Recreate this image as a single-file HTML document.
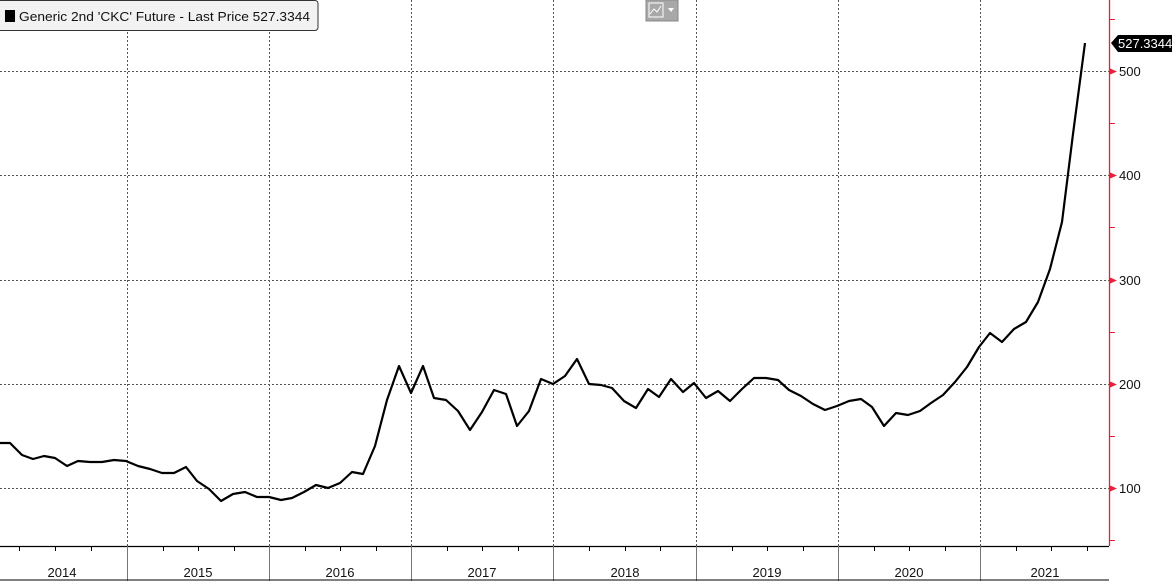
<!DOCTYPE html>
<html><head><style>
html,body{margin:0;padding:0;background:#fff;}
svg{display:block;font-family:"Liberation Sans",sans-serif;}
</style></head><body>
<svg width="1172" height="581" viewBox="0 0 1172 581" xmlns="http://www.w3.org/2000/svg">
<rect width="1172" height="581" fill="#fff"/>
<g stroke="#555" stroke-width="1" stroke-dasharray="2,2">
<line x1="127.5" y1="0" x2="127.5" y2="546"/>
<line x1="269.5" y1="0" x2="269.5" y2="546"/>
<line x1="411.5" y1="0" x2="411.5" y2="546"/>
<line x1="553.5" y1="0" x2="553.5" y2="546"/>
<line x1="696.5" y1="0" x2="696.5" y2="546"/>
<line x1="838.5" y1="0" x2="838.5" y2="546"/>
<line x1="980.5" y1="0" x2="980.5" y2="546"/>
<line x1="0" y1="71.5" x2="1109" y2="71.5"/>
<line x1="0" y1="175.5" x2="1109" y2="175.5"/>
<line x1="0" y1="280.5" x2="1109" y2="280.5"/>
<line x1="0" y1="384.5" x2="1109" y2="384.5"/>
<line x1="0" y1="488.5" x2="1109" y2="488.5"/>
</g>
<polyline fill="none" stroke="#000" stroke-width="2.2" stroke-linejoin="round" points="0,443 10,443 22,455 33,459 44,456 55,458 67,466 78,461 90,462 102,462 114,460 126,461 138,466 150,469 162,473 174,473 186,467 197,481 209,489 221,501 233,494 245,492 257,497 269,497 281,500 292,498 304,492 316,485 328,488 340,483 352,472 363,474 375,446 387,400 399,366 411,393 423,366 434,398 446,400 458,411 470,430 482,412 494,390 506,394 517,426 529,411 541,379 553,384 565,376 577,359 589,384 601,385 612,388 624,401 636,408 648,389 659,397 671,379 683,392 694,383 706,398 718,391 730,401 742,389 754,378 766,378 778,380 789,390 801,396 813,404 825,410 837,406 849,401 861,399 872,407 884,426 896,413 908,415 920,411 931,403 943,395 955,382 967,367 979,347 990,333 1002,342 1014,329 1026,322 1038,302 1050,269 1062,222 1073,134 1085,43"/>
<line x1="1109.5" y1="0" x2="1109.5" y2="546" stroke="#e8213a" stroke-width="1.3"/>
<g stroke="#e8213a">
<line x1="1109" y1="19.5" x2="1115" y2="19.5"/>
<line x1="1109" y1="123.5" x2="1115" y2="123.5"/>
<line x1="1109" y1="227.5" x2="1115" y2="227.5"/>
<line x1="1109" y1="332.5" x2="1115" y2="332.5"/>
<line x1="1109" y1="436.5" x2="1115" y2="436.5"/>
<line x1="1109" y1="540.5" x2="1115" y2="540.5"/>
</g>
<g fill="#e8213a">
<polygon points="1109,68 1117,71.5 1109,75"/>
<polygon points="1109,172 1117,175.5 1109,179"/>
<polygon points="1109,277 1117,280.5 1109,284"/>
<polygon points="1109,381 1117,384.5 1109,388"/>
<polygon points="1109,485 1117,488.5 1109,492"/>
</g>
<g font-size="13" fill="#111">
<text x="1119" y="76">500</text>
<text x="1119" y="180">400</text>
<text x="1119" y="285">300</text>
<text x="1119" y="389">200</text>
<text x="1119" y="493">100</text>
</g>
<polygon points="1111,43 1118,35 1172,35 1172,52 1118,52" fill="#000"/>
<text x="1118" y="48" font-size="13" fill="#fff">527.3344</text>
<line x1="0" y1="546.5" x2="1109" y2="546.5" stroke="#000" stroke-width="1.2"/>
<g stroke="#000">
<line x1="19.5" y1="546" x2="19.5" y2="551"/><line x1="55.5" y1="546" x2="55.5" y2="551"/><line x1="91.5" y1="546" x2="91.5" y2="551"/>
<line x1="163.5" y1="546" x2="163.5" y2="551"/><line x1="198.5" y1="546" x2="198.5" y2="551"/><line x1="234.5" y1="546" x2="234.5" y2="551"/>
<line x1="305.5" y1="546" x2="305.5" y2="551"/><line x1="340.5" y1="546" x2="340.5" y2="551"/><line x1="376.5" y1="546" x2="376.5" y2="551"/>
<line x1="447.5" y1="546" x2="447.5" y2="551"/><line x1="482.5" y1="546" x2="482.5" y2="551"/><line x1="518.5" y1="546" x2="518.5" y2="551"/>
<line x1="589.5" y1="546" x2="589.5" y2="551"/><line x1="625.5" y1="546" x2="625.5" y2="551"/><line x1="660.5" y1="546" x2="660.5" y2="551"/>
<line x1="732.5" y1="546" x2="732.5" y2="551"/><line x1="767.5" y1="546" x2="767.5" y2="551"/><line x1="803.5" y1="546" x2="803.5" y2="551"/>
<line x1="874.5" y1="546" x2="874.5" y2="551"/><line x1="909.5" y1="546" x2="909.5" y2="551"/><line x1="945.5" y1="546" x2="945.5" y2="551"/>
<line x1="1016.5" y1="546" x2="1016.5" y2="551"/><line x1="1051.5" y1="546" x2="1051.5" y2="551"/><line x1="1087.5" y1="546" x2="1087.5" y2="551"/>
</g>
<g stroke="#777">
<line x1="127.5" y1="546" x2="127.5" y2="581"/><line x1="269.5" y1="546" x2="269.5" y2="581"/><line x1="411.5" y1="546" x2="411.5" y2="581"/>
<line x1="553.5" y1="546" x2="553.5" y2="581"/><line x1="696.5" y1="546" x2="696.5" y2="581"/><line x1="838.5" y1="546" x2="838.5" y2="581"/>
<line x1="980.5" y1="546" x2="980.5" y2="581"/>
</g>
<line x1="0" y1="580" x2="1109" y2="580" stroke="#000"/>
<g font-size="13" fill="#111" text-anchor="middle">
<text x="62" y="577">2014</text><text x="198" y="577">2015</text><text x="340" y="577">2016</text>
<text x="482" y="577">2017</text><text x="625" y="577">2018</text><text x="767" y="577">2019</text>
<text x="909" y="577">2020</text><text x="1045" y="577">2021</text>
</g>
<rect x="-5" y="0.5" width="323" height="30" rx="3" fill="#f2f2f2" stroke="#333"/>
<rect x="5" y="10" width="10" height="12" fill="#000"/>
<text x="19" y="21" font-size="13" fill="#111" textLength="291" lengthAdjust="spacingAndGlyphs">Generic 2nd 'CKC' Future - Last Price 527.3344</text>
<rect x="646" y="0" width="32" height="21" fill="#a8a8a8" stroke="#888"/>
<rect x="649" y="3" width="14" height="14" fill="none" stroke="#fff"/>
<polyline points="650,14 654,9 657,12 661,6" fill="none" stroke="#fff"/>
<polygon points="668,8 674,8 671,12" fill="#fff"/>
</svg>
</body></html>
